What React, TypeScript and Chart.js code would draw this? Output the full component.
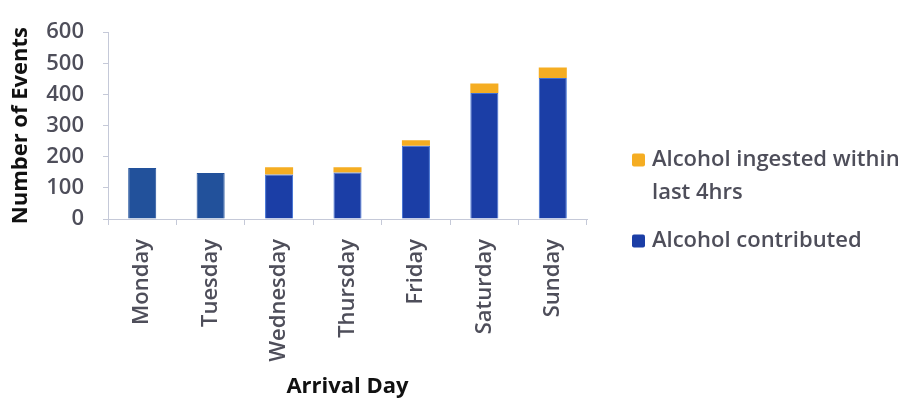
import React, { useEffect, useRef } from "react";
import { Chart, registerables } from "chart.js";

Chart.register(...registerables);

const categories = ["Monday", "Tuesday", "Wednesday", "Thursday", "Friday", "Saturday", "Sunday"];
const alcoholContributed = [164, 148, 143, 149, 235, 405, 453];
const ingestedWithin4hrs = [0, 0, 23, 17, 18, 30, 34];
const yMin = 0;
const yMax = 600;
const yStep = 100;

const FONT = "'Open Sans', 'DejaVu Sans', sans-serif";
const TEXT_GRAY = "#4e4e5a";
const AXIS_LINE = "#c5c9d8";

const contributedFill = ["#22519b", "#22519b", "#1b3ea6", "#1b3ea6", "#1b3ea6", "#1b3ea6", "#1b3ea6"];
const contributedEdge = ["#22519b", "#22519b", "#3e6fd4", "#3e6fd4", "#3e6fd4", "#3e6fd4", "#3e6fd4"];

// Legend drawn at the right of the plot, wrapping long labels onto several lines
const sideLegend = {
  id: "sideLegend",
  afterDraw(chart: any, _args: any, opts: any) {
    const ctx: CanvasRenderingContext2D = chart.ctx;
    ctx.save();
    ctx.font = `${opts.weight} ${opts.size}px ${opts.family}`;
    ctx.textBaseline = "middle";
    ctx.textAlign = "left";
    const textX = opts.x + opts.box + opts.boxGap;
    const maxWidth = chart.width - textX - 2;
    let y = opts.top;
    const items = [...chart.data.datasets].reverse();
    items.forEach((ds: any) => {
      const bg = Array.isArray(ds.backgroundColor)
        ? ds.backgroundColor[ds.backgroundColor.length - 1]
        : ds.backgroundColor;
      ctx.fillStyle = bg;
      ctx.beginPath();
      if ((ctx as any).roundRect) {
        (ctx as any).roundRect(opts.x, y - opts.box / 2, opts.box, opts.box, 2);
      } else {
        ctx.rect(opts.x, y - opts.box / 2, opts.box, opts.box);
      }
      ctx.fill();

      const words = String(ds.label).split(" ");
      const lines: string[] = [];
      let cur = "";
      words.forEach((w) => {
        const test = cur ? cur + " " + w : w;
        if (ctx.measureText(test).width > maxWidth && cur) {
          lines.push(cur);
          cur = w;
        } else {
          cur = test;
        }
      });
      if (cur) lines.push(cur);

      ctx.fillStyle = opts.color;
      lines.forEach((ln, i) => ctx.fillText(ln, textX, y + i * opts.lineHeight));
      y += lines.length * opts.lineHeight + opts.gap;
    });
    ctx.restore();
  },
};

export default function App() {
  const canvasRef = useRef<HTMLCanvasElement | null>(null);

  useEffect(() => {
    document.body.style.margin = "0";
    const canvas = canvasRef.current;
    if (!canvas) return;

    const chart = new Chart(canvas, {
      type: "bar",
      data: {
        labels: categories,
        datasets: [
          {
            label: "Alcohol contributed",
            data: alcoholContributed,
            backgroundColor: contributedFill,
            borderColor: contributedEdge,
            borderWidth: 1,
            borderSkipped: "bottom",
            barPercentage: 0.41,
            categoryPercentage: 1,
          },
          {
            label: "Alcohol ingested within last 4hrs",
            data: ingestedWithin4hrs,
            backgroundColor: "#f5ad22",
            borderWidth: 0,
            barPercentage: 0.41,
            categoryPercentage: 1,
          },
        ],
      },
      options: {
        responsive: false,
        animation: false,
        devicePixelRatio: 1,
        layout: { padding: { top: 24, left: 0, right: 323, bottom: 0 } },
        plugins: {
          legend: { display: false },
          tooltip: { enabled: false },
          sideLegend: {
            x: 632,
            top: 160,
            box: 13,
            boxGap: 7,
            size: 22,
            weight: 600,
            family: FONT,
            color: TEXT_GRAY,
            lineHeight: 33,
            gap: 15,
          },
        } as any,
        scales: {
          x: {
            stacked: true,
            afterFit: (scale: any) => {
              scale.height = 183;
            },
            border: { display: true, color: AXIS_LINE, width: 1 },
            grid: {
              offset: true,
              drawOnChartArea: false,
              drawTicks: true,
              tickLength: 6,
              color: AXIS_LINE,
            },
            ticks: {
              minRotation: 90,
              maxRotation: 90,
              padding: 14,
              color: TEXT_GRAY,
              font: { family: FONT, size: 22, weight: 600 },
            },
            title: {
              display: true,
              text: "Arrival Day",
              color: "#111111",
              font: { family: FONT, size: 22, weight: "bold" },
              padding: { top: 0, bottom: 2 },
            },
          },
          y: {
            stacked: true,
            min: yMin,
            max: yMax,
            afterFit: (scale: any) => {
              scale.width = 108;
            },
            border: { display: true, color: AXIS_LINE, width: 1 },
            grid: {
              drawOnChartArea: false,
              drawTicks: true,
              tickLength: 5,
              color: AXIS_LINE,
            },
            ticks: {
              stepSize: yStep,
              padding: 19,
              color: TEXT_GRAY,
              font: { family: FONT, size: 22, weight: 600 },
            },
            title: {
              display: true,
              text: "Number of Events",
              color: "#111111",
              font: { family: FONT, size: 22, weight: "bold" },
              padding: { top: 8, bottom: 0 },
            },
          },
        },
      },
      plugins: [sideLegend],
    });

    return () => chart.destroy();
  }, []);

  return (
    <div style={{ position: "absolute", left: 0, top: 0, width: 910, height: 402, background: "#ffffff" }}>
      <canvas ref={canvasRef} width={910} height={402} />
    </div>
  );
}
